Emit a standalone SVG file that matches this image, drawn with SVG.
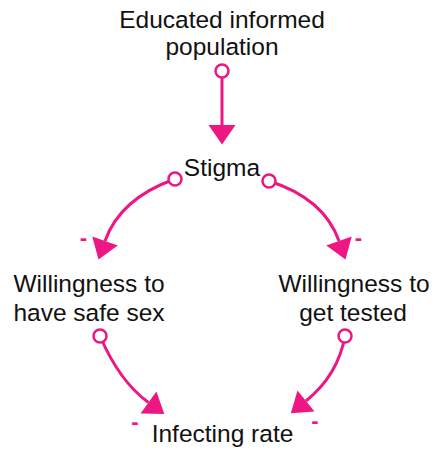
<svg xmlns="http://www.w3.org/2000/svg" width="432" height="450" viewBox="0 0 432 450">
<defs>
<style>
.lbl{font-family:"Liberation Sans",Arial,sans-serif;font-size:24.5px;fill:#111;text-anchor:middle}
.pol{font-family:"Liberation Sans",Arial,sans-serif;font-size:22px;font-weight:bold;fill:#EE1682;text-anchor:middle}
.lnk{fill:none;stroke:#EE1682;stroke-width:3;marker-end:url(#ah)}
.tail{fill:#fff;stroke:#EE1682;stroke-width:2.5}
</style>
<marker id="ah" markerUnits="userSpaceOnUse" markerWidth="20" markerHeight="27" refX="0" refY="13.5" orient="auto" viewBox="0 0 20 27" overflow="visible">
<path d="M0,0 L19.5,13.5 L0,27 Z" fill="#EE1682"/>
</marker>
</defs>
<rect width="432" height="450" fill="#fff"/>
<g id="connectors">
<path class="lnk" d="M222,72 L222,125"/>
<path class="lnk" d="M175,179 Q120,198.5 105,241"/>
<path class="lnk" d="M269,181 Q324,198.5 339,241"/>
<path class="lnk" d="M100,336 Q119.5,381.5 148.5,402.5"/>
<path class="lnk" d="M345,336 Q338,375 306,401"/>
<circle class="tail" cx="222" cy="71" r="6.5"/>
<circle class="tail" cx="175" cy="179" r="6.5"/>
<circle class="tail" cx="269" cy="181" r="6.5"/>
<circle class="tail" cx="100" cy="336" r="6.5"/>
<circle class="tail" cx="345" cy="336" r="6.5"/>
<text class="pol" x="83.5" y="245">-</text>
<text class="pol" x="358.5" y="245">-</text>
<text class="pol" x="135" y="429">-</text>
<text class="pol" x="315" y="428">-</text>
</g>
<g id="node-educated">
<text class="lbl" x="222" y="28">Educated informed</text>
<text class="lbl" x="222" y="55">population</text>
</g>
<g id="node-stigma">
<text class="lbl" x="222" y="176">Stigma</text>
</g>
<g id="node-safe-sex">
<text class="lbl" x="89" y="292">Willingness to</text>
<text class="lbl" x="89" y="321">have safe sex</text>
</g>
<g id="node-tested">
<text class="lbl" x="354" y="292">Willingness to</text>
<text class="lbl" x="353" y="321">get tested</text>
</g>
<g id="node-infecting">
<text class="lbl" x="222.5" y="442">Infecting rate</text>
</g>
</svg>
